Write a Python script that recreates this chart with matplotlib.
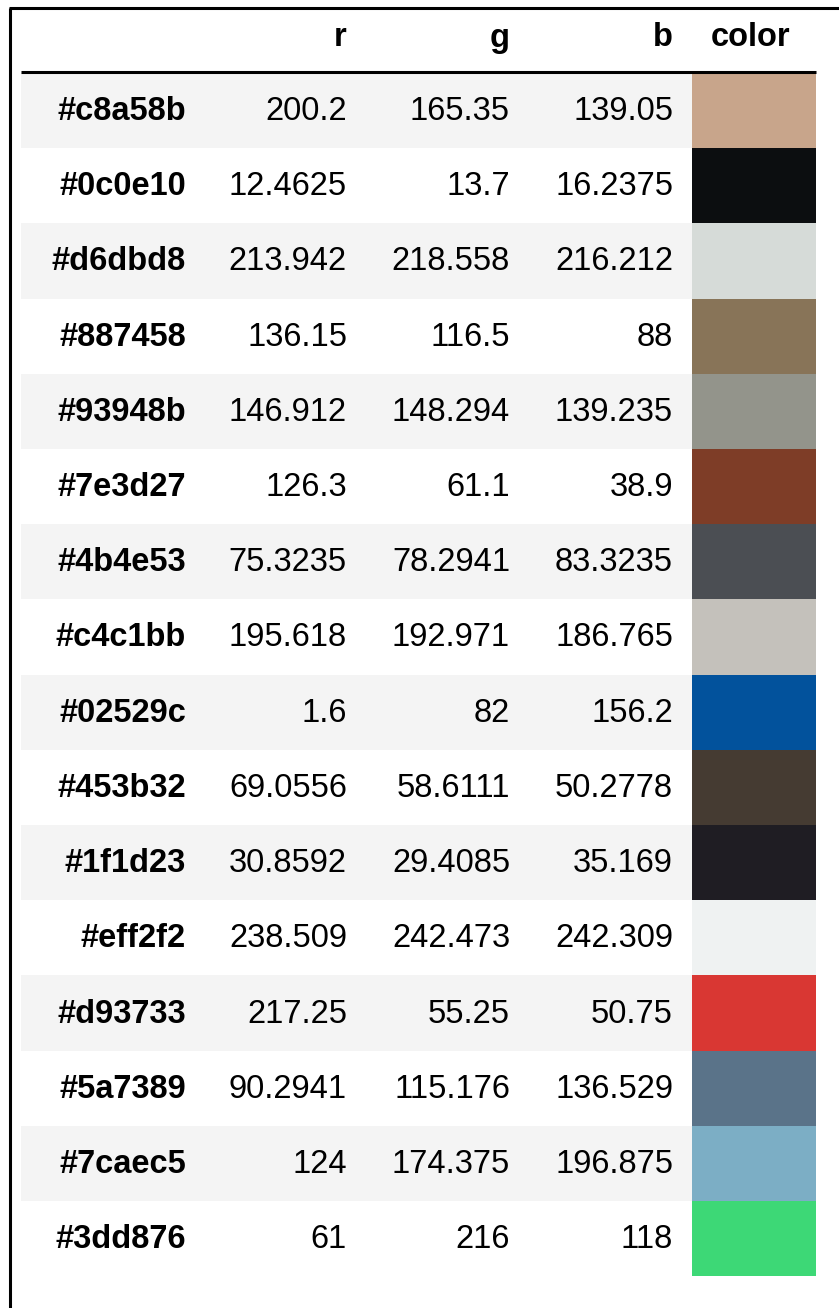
import matplotlib.pyplot as plt
from matplotlib.patches import Rectangle

hex_codes = ['#c8a58b', '#0c0e10', '#d6dbd8', '#887458', '#93948b', '#7e3d27',
             '#4b4e53', '#c4c1bb', '#02529c', '#453b32', '#1f1d23', '#eff2f2',
             '#d93733', '#5a7389', '#7caec5', '#3dd876']
r_vals = ['200.2', '12.4625', '213.942', '136.15', '146.912', '126.3', '75.3235',
          '195.618', '1.6', '69.0556', '30.8592', '238.509', '217.25', '90.2941',
          '124', '61']
g_vals = ['165.35', '13.7', '218.558', '116.5', '148.294', '61.1', '78.2941',
          '192.971', '82', '58.6111', '29.4085', '242.473', '55.25', '115.176',
          '174.375', '216']
b_vals = ['139.05', '16.2375', '216.212', '88', '139.235', '38.9', '83.3235',
          '186.765', '156.2', '50.2778', '35.169', '242.309', '50.75', '136.529',
          '196.875', '118']
columns = ['r', 'g', 'b', 'color']

W, H = 839, 1308
fig = plt.figure(figsize=(W / 100, H / 100), dpi=100)
ax = fig.add_axes([0, 0, 1, 1])
ax.set_xlim(0, W)
ax.set_ylim(H, 0)
ax.axis('off')

font = ['Liberation Sans', 'DejaVu Sans']
fs = 23.5

# cornice della finestra
ax.plot([10, 10], [8, H], color='black', lw=2.2, solid_capstyle='butt')
ax.plot([9, W], [8, 8], color='black', lw=2.2, solid_capstyle='butt')

top = 73
row_h = 75.2
left, right = 21, 816
sw_left = 692
idx_right = 186
col_right = [347, 510, 673]

# intestazione
for c, x in zip(columns[:3], col_right):
    ax.text(x, 38, c, ha='right', va='center', fontsize=fs, fontweight='bold', family=font)
ax.text(sw_left + 19, 38, columns[3], ha='left', va='center', fontsize=fs,
        fontweight='bold', family=font)
ax.plot([left, right], [top - 1.5, top - 1.5], color='black', lw=2.2, solid_capstyle='butt')

for i, h in enumerate(hex_codes):
    y0 = top + i * row_h
    yc = y0 + row_h / 2 + 1
    if i % 2 == 0:
        ax.add_patch(Rectangle((left, y0), sw_left - left, row_h, color='#f4f4f4', lw=0))
    ax.add_patch(Rectangle((sw_left, y0), right - sw_left, row_h, color=h, lw=0))
    ax.text(idx_right, yc, h, ha='right', va='center', fontsize=fs, fontweight='bold', family=font)
    for vals, x in zip([r_vals, g_vals, b_vals], col_right):
        ax.text(x, yc, vals[i], ha='right', va='center', fontsize=fs, family=font)

fig.savefig('out.png', dpi=100)
